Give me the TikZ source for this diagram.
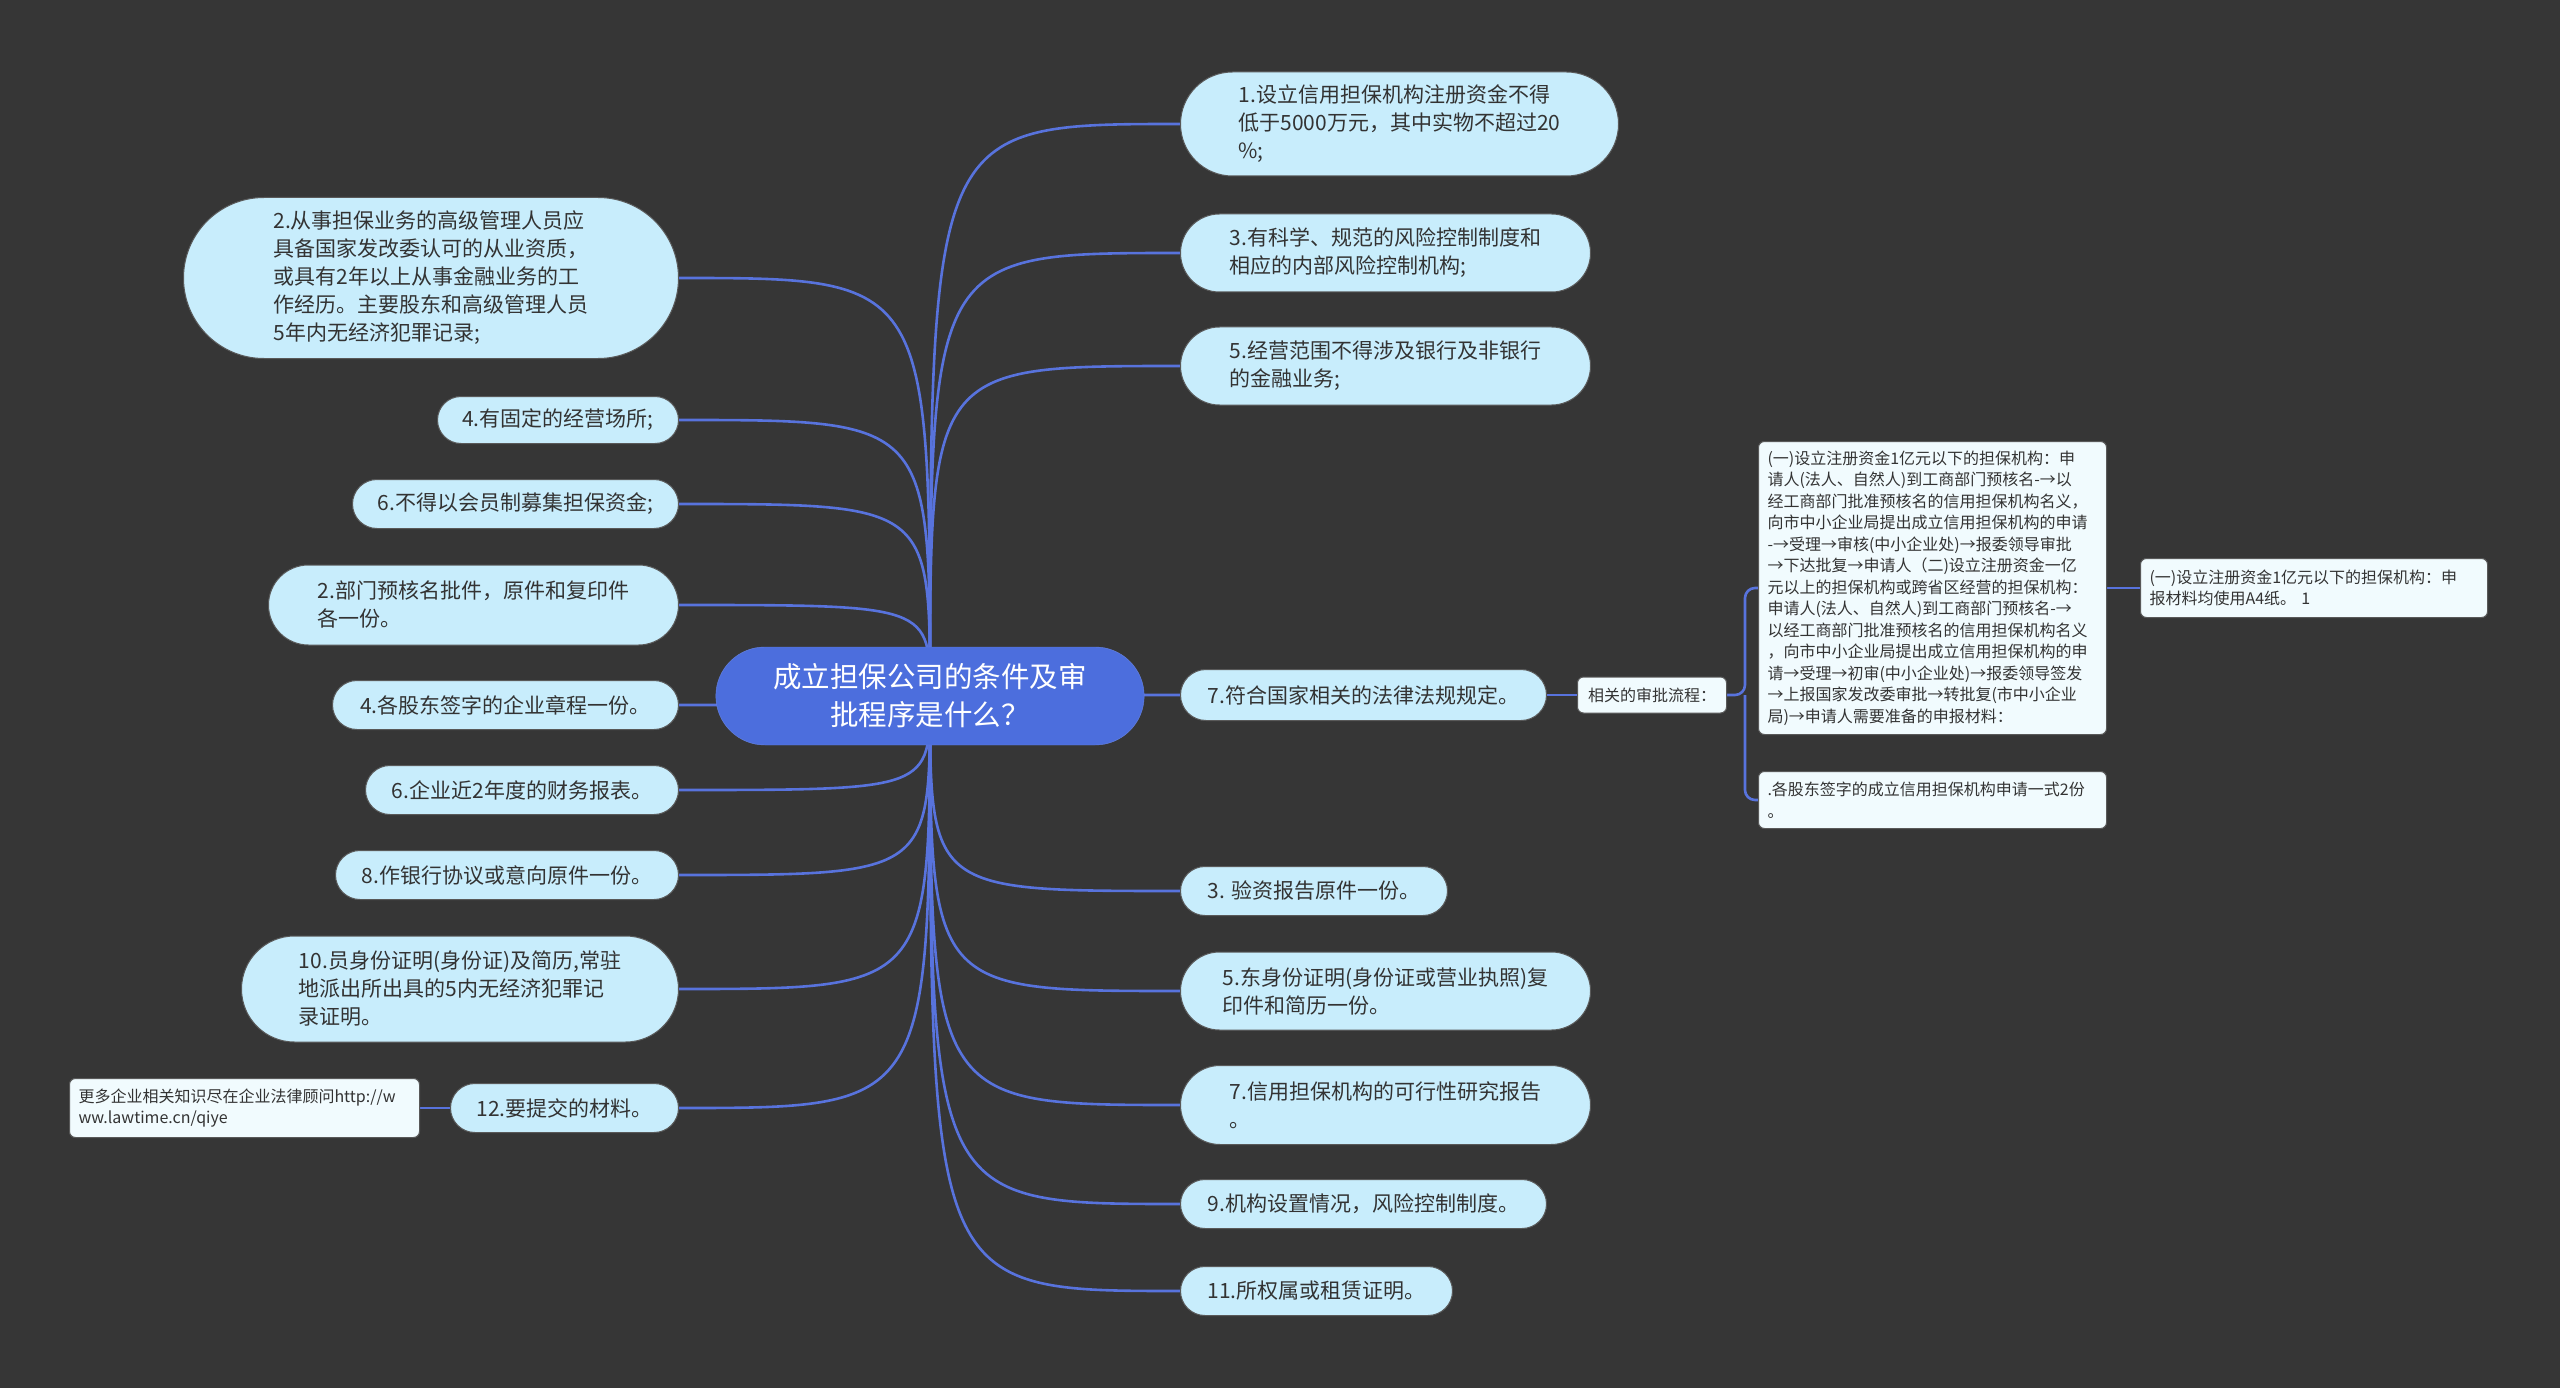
\documentclass[tikz,border=0pt]{standalone}
\usepackage{fontspec}
\setmainfont{Noto Sans CJK SC}
\usetikzlibrary{shapes.misc,backgrounds}
\definecolor{bgdark}{HTML}{363636}
\definecolor{rootblue}{HTML}{4C6EDD}
\definecolor{linkblue}{HTML}{5873DD}
\definecolor{topicfill}{HTML}{C8EDFC}
\definecolor{leaffill}{HTML}{F1FBFE}
\definecolor{ink}{HTML}{333333}

\begin{document}
\begin{tikzpicture}[x=1pt,y=-1pt,
  root/.style={rounded rectangle, fill=rootblue, draw=rootblue!85!white, text=white, align=center,
    font=\fontsize{28.5}{38}\selectfont, minimum width=435pt, minimum height=98pt},
  topic/.style={rounded rectangle, fill=topicfill, draw=black!65, line width=1pt, text=ink,
    align=left, inner xsep=0pt, font=\fontsize{21}{28}\selectfont},
  leaf/.style={rectangle, rounded corners=6pt, fill=leaffill, draw=black!65, line width=1pt,
    text=ink, align=left, inner xsep=9pt, font=\fontsize{16}{21.5}\selectfont},
  branch/.style={draw=linkblue, line width=2.6pt}]
  \useasboundingbox (0,0) rectangle (2560,1388);

  \node[root] (root) at (930,696) {成立担保公司的条件及审\\批程序是什么？};

  % right side
  \node[topic, anchor=west, minimum width=438pt, minimum height=104pt] (r1) at (1180,124)
    {1.设立信用担保机构注册资金不得\\低于5000万元，其中实物不超过20\\\%;};
  \node[topic, anchor=west, minimum width=410pt, minimum height=78pt] (r2) at (1180,253)
    {3.有科学、规范的风险控制制度和\\相应的内部风险控制机构;};
  \node[topic, anchor=west, minimum width=410pt, minimum height=78pt] (r3) at (1180,366)
    {5.经营范围不得涉及银行及非银行\\的金融业务;};
  \node[topic, anchor=west, minimum width=366pt, minimum height=51pt] (r4) at (1180,695)
    {7.符合国家相关的法律法规规定。};
  \node[topic, anchor=west, minimum width=267pt, minimum height=49pt] (r5) at (1180,891)
    {3. 验资报告原件一份。};
  \node[topic, anchor=west, minimum width=410pt, minimum height=78pt] (r6) at (1180,991)
    {5.东身份证明(身份证或营业执照)复\\印件和简历一份。};
  \node[topic, anchor=west, minimum width=410pt, minimum height=79pt] (r7) at (1180,1105)
    {7.信用担保机构的可行性研究报告\\。};
  \node[topic, anchor=west, minimum width=366pt, minimum height=49pt] (r8) at (1180,1204)
    {9.机构设置情况，风险控制制度。};
  \node[topic, anchor=west, minimum width=272pt, minimum height=49pt] (r9) at (1180,1291)
    {11.所权属或租赁证明。};

  % left side
  \node[topic, anchor=east, minimum width=495pt, minimum height=161pt] (l1) at (679,278)
    {2.从事担保业务的高级管理人员应\\具备国家发改委认可的从业资质，\\或具有2年以上从事金融业务的工\\作经历。主要股东和高级管理人员\\5年内无经济犯罪记录;};
  \node[topic, anchor=east, minimum width=241pt, minimum height=47pt] (l2) at (679,420)
    {4.有固定的经营场所;};
  \node[topic, anchor=east, minimum width=326pt, minimum height=49pt] (l3) at (679,504)
    {6.不得以会员制募集担保资金;};
  \node[topic, anchor=east, minimum width=410pt, minimum height=80pt] (l4) at (679,605)
    {2.部门预核名批件，原件和复印件\\各一份。};
  \node[topic, anchor=east, minimum width=346pt, minimum height=49pt] (l5) at (679,705)
    {4.各股东签字的企业章程一份。};
  \node[topic, anchor=east, minimum width=313pt, minimum height=49pt] (l6) at (679,790)
    {6.企业近2年度的财务报表。};
  \node[topic, anchor=east, minimum width=343pt, minimum height=49pt] (l7) at (679,875)
    {8.作银行协议或意向原件一份。};
  \node[topic, anchor=east, minimum width=437pt, minimum height=106pt] (l8) at (679,989)
    {10.员身份证明(身份证)及简历,常驻\\地派出所出具的5内无经济犯罪记\\录证明。};
  \node[topic, anchor=east, minimum width=228pt, minimum height=49pt] (l9) at (679,1108)
    {12.要提交的材料。};

  % sub branches
  \node[leaf, anchor=east, text width=332pt, minimum height=59pt] (more) at (420,1108)
    {更多企业相关知识尽在企业法律顾问http://w\\ww.lawtime.cn/qiye};
  \node[leaf, anchor=west, minimum width=149pt, minimum height=36pt] (rel) at (1577,695)
    {相关的审批流程：};
  \node[leaf, anchor=west, text width=330pt, minimum height=293pt] (c1) at (1758,588)
    {(一)设立注册资金1亿元以下的担保机构：申\\请人(法人、自然人)到工商部门预核名-→以\\经工商部门批准预核名的信用担保机构名义，\\向市中小企业局提出成立信用担保机构的申请\\-→受理→审核(中小企业处)→报委领导审批\\→下达批复→申请人（二)设立注册资金一亿\\元以上的担保机构或跨省区经营的担保机构：\\申请人(法人、自然人)到工商部门预核名-→\\以经工商部门批准预核名的信用担保机构名义\\，向市中小企业局提出成立信用担保机构的申\\请→受理→初审(中小企业处)→报委领导签发\\→上报国家发改委审批→转批复(市中小企业\\局)→申请人需要准备的申报材料：};
  \node[leaf, anchor=west, text width=330pt, minimum height=57pt] (c2) at (1758,800)
    {.各股东签字的成立信用担保机构申请一式2份\\。};
  \node[leaf, anchor=west, text width=329pt, minimum height=59pt] (c1x) at (2140,588)
    {(一)设立注册资金1亿元以下的担保机构：申\\报材料均使用A4纸。 1};
  \coordinate (fork) at (1745,695);

  \begin{scope}[on background layer]
    \fill[bgdark] (0,0) rectangle (2560,1388);
    \foreach \n in {r1,r2,r3,r4,r5,r6,r7,r8,r9}
      \draw[branch] (root.center) .. controls (root.center |- \n.west) .. (\n.west);
    \foreach \n in {l1,l2,l3,l4,l5,l6,l7,l8,l9}
      \draw[branch] (root.center) .. controls (root.center |- \n.east) .. (\n.east);
    \draw[branch] (r4.east) -- (rel.west);
    \draw[branch, rounded corners=10pt] (rel.east) -- (fork) |- (c1.west);
    \draw[branch, rounded corners=10pt] (fork) |- (c2.west);
    \draw[branch] (c1.east) -- (c1x.west);
    \draw[branch] (l9.west) -- (more.east);
  \end{scope}
\end{tikzpicture}
\end{document}
